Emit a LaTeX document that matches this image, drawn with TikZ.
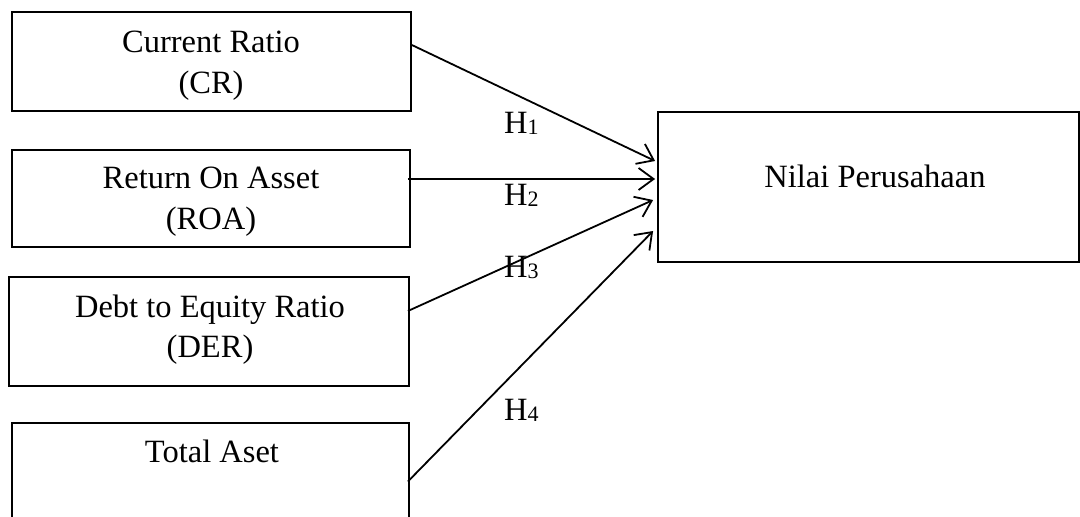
\documentclass[tikz,border=0pt]{standalone}
\usepackage{fontspec}
\setmainfont{Liberation Serif}
\usetikzlibrary{arrows.meta}
\newcommand{\hsub}[1]{H\raisebox{-1pt}{\fontsize{22}{22}\selectfont #1}}
\begin{document}
\begin{tikzpicture}[x=1pt,y=-1pt,
  box/.style={draw=black,line width=1.8pt,rectangle,inner sep=0pt},
  txt/.style={anchor=base,inner sep=0pt,font=\fontsize{32.5}{38}\selectfont},
  conn/.style={line width=1.8pt,-{Straight Barb[length=15pt,width=22pt,line width=1.8pt]}}]
\useasboundingbox (0,0) rectangle (1080,517);
% boxes
\node[box,minimum width=399pt,minimum height=99pt] (cr) at (211.5,61.5) {};
\node[box,minimum width=398pt,minimum height=97pt] (roa) at (211,198.5) {};
\node[box,minimum width=400pt,minimum height=109pt] (der) at (209,331.5) {};
\node[box,minimum width=397pt,minimum height=117pt] (ta) at (210.5,481.5) {};
\node[box,minimum width=421pt,minimum height=150pt] (nilai) at (868.5,187) {};
% texts
\node[txt] (cr1) at (211,52) {Current Ratio};
\node[txt] (cr2) at (211,93) {(CR)};
\node[txt] (roa1) at (211,188) {Return On Asset};
\node[txt] (roa2) at (211,229) {(ROA)};
\node[txt] (der1) at (210,317) {Debt to Equity Ratio};
\node[txt] (der2) at (210,357) {(DER)};
\node[txt] (ta1) at (212,462) {Total Aset};
\node[txt] (nilai1) at (875,187) {Nilai Perusahaan};
% connectors
\draw[conn] ([yshift=16.5pt]cr.east) -- ([xshift=-2pt,yshift=26pt]nilai.west);
\draw[conn] ([xshift=-3pt,yshift=19.5pt]roa.east) -- ([xshift=-2pt,yshift=8pt]nilai.west);
\draw[conn] ([xshift=-2pt,yshift=20.5pt]der.east) -- ([xshift=-4pt,yshift=-13pt]nilai.west);
\draw[conn] ([xshift=-2pt]ta.east) -- ([xshift=-4pt,yshift=-44pt]nilai.west);
% labels
\node[txt,anchor=base west] (h1) at (504,133) {\hsub{1}};
\node[txt,anchor=base west] (h2) at (504,205) {\hsub{2}};
\node[txt,anchor=base west] (h3) at (504,277) {\hsub{3}};
\node[txt,anchor=base west] (h4) at (504,420) {\hsub{4}};
\end{tikzpicture}
\end{document}
